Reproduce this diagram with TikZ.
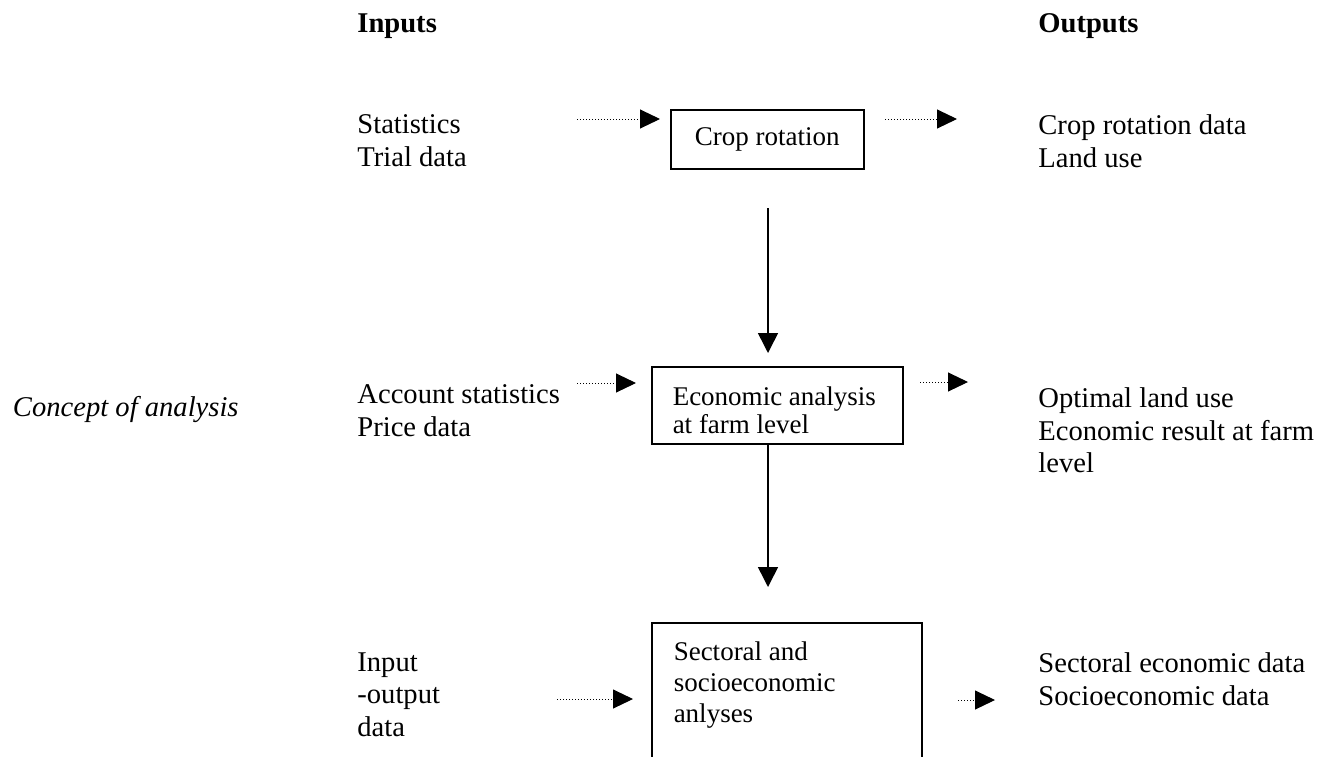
\documentclass[tikz,border=0pt]{standalone}
\usepackage{fontspec}
\setmainfont{Liberation Serif}
\usetikzlibrary{arrows.meta}

\begin{document}
\begin{tikzpicture}[x=0.5pt,y=-0.5pt,
    txt/.style={anchor=north west,inner sep=0pt,align=left,font=\fontsize{14.3}{16.4}\selectfont},
    head/.style={txt,font=\fontsize{14.3}{16.4}\selectfont\bfseries},
    box/.style={draw,line width=0.75pt,anchor=north west,inner ysep=0pt,font=\fontsize{13.5}{15.5}\selectfont},
    feed/.style={line width=0.5pt,dash pattern=on 0.5pt off 1pt,-{Triangle[length=10pt,width=9.5pt]}},
    flow/.style={line width=0.75pt,-{Triangle[length=10pt,width=10pt]}}]
	\useasboundingbox (0,0) rectangle (1332,756);
	\clip (0,0) rectangle (1332,756);

	\node[head] (inputs) at (357,13) {Inputs};
	\node[head] (outputs) at (1038,13) {Outputs};

	\node[txt] (stat) at (357,114) {Statistics\\Trial data};
	\node[txt] (rotout) at (1038,114) {Crop rotation data\\Land use};
	\node[txt] (acc) at (357,384) {Account statistics\\Price data};
	\node[txt] (optout) at (1038,387) {Optimal land use\\Economic result at farm\\level};
	\node[txt,anchor=north east,font=\fontsize{14.3}{16.4}\selectfont\itshape] (concept) at (239,396) {Concept of analysis};
	\node[txt] (io) at (357,652) {Input\\-output\\data};
	\node[txt] (secout) at (1038,652) {Sectoral economic data\\Socioeconomic data};

	\node[box,minimum width=96.5pt,minimum height=29.5pt,inner xsep=0pt] (crop) at (670,109) {Crop rotation};
	\node[box,text width=104.5pt,align=flush left,inner xsep=10.5pt,minimum height=38.5pt,font=\fontsize{13.5}{14}\selectfont] (econ) at (651,366) {\rule{0pt}{14pt}Economic analysis\\at farm level};
	\node[box,text width=113pt,align=flush left,inner xsep=11pt,inner ysep=9.5pt] (sect) at (651,622) {Sectoral and\\socioeconomic\\anlyses\rule[-30pt]{0pt}{0pt}};

	\coordinate (in1) at (577,119);
	\coordinate (in1e) at (660,119);
	\coordinate (out1) at (885,119);
	\coordinate (out1e) at (957,119);
	\coordinate (in2) at (577,383);
	\coordinate (in2e) at (636,383);
	\coordinate (out2) at (920,382);
	\coordinate (out2e) at (968,382);
	\coordinate (in3) at (557,699);
	\coordinate (in3e) at (633,699);
	\coordinate (out3) at (958,700);
	\coordinate (out3e) at (995,700);
	\coordinate (down1) at (768,208);
	\coordinate (down1e) at (768,353);
	\coordinate (down2e) at (768,587);

	\draw[feed] (in1)--(in1e);
	\draw[feed] (out1)--(out1e);
	\draw[feed] (in2)--(in2e);
	\draw[feed] (out2)--(out2e);
	\draw[feed] (in3)--(in3e);
	\draw[feed] (out3)--(out3e);

	\draw[flow] (down1)--(down1e);
	\draw[flow] (econ.south -| down1)--(down2e);
\end{tikzpicture}
\end{document}
